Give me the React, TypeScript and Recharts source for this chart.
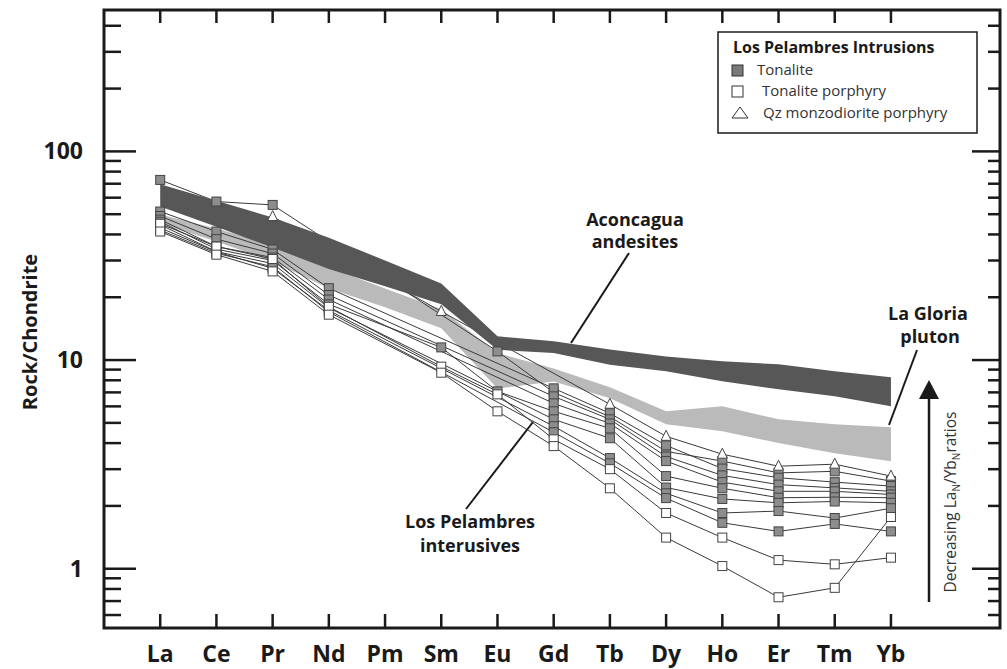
import { Area, ComposedChart, Line, XAxis, YAxis } from "recharts";

const elements = ["La", "Ce", "Pr", "Nd", "Pm", "Sm", "Eu", "Gd", "Tb", "Dy", "Ho", "Er", "Tm", "Yb"];
const yTicks = [0.6, 0.7, 0.8, 0.9, 1, 2, 3, 4, 5, 6, 7, 8, 9, 10, 20, 30, 40, 50, 60, 70, 80, 90, 100, 200, 300, 400];
const yLabelled = [1, 10, 100];

// fields
const aconcaguaLow = [54.4, 43.6, 34.6, 27.3, 22.6, 18.5, 11.2, 10.8, 9.5, 8.83, 7.91, 7.24, 6.7, 6.0];
const aconcaguaHigh = [69.5, 58, 48.2, 38.6, 30, 23.3, 13, 12.3, 11.25, 10.4, 9.86, 9.54, 8.83, 8.27];
const gloriaLow = [45.1, 37, 29.7, 22, 17.9, 14.2, 7.3, 7.9, 6.56, 4.92, 4.56, 4.0, 3.58, 3.27];
const gloriaHigh = [49.8, 42.7, 35.8, 27.8, 22, 17.5, 10.8, 9.1, 7.4, 5.68, 6.0, 5.2, 4.92, 4.76];

// Los Pelambres samples (Pm not analysed; null = hidden / not shown)
const qzMonzo1 = [null, null, 48.7, null, null, 17.1, null, null, 6.14, 4.31, 3.54, 3.1, 3.17, 2.78];
const tonalite1 = [73, 57.5, 55.4, null, null, null, 11, 7.0, 5.35, 3.65, 3.28, 2.88, 2.93, 2.63];
const tonalite2 = [51.5, 41.3, 33.9, 22.1, null, null, null, 7.32, 5.56, 3.9, 3.02, 2.73, 2.6, 2.49];
const tonalite3 = [49, 38, 32.4, 20.5, null, null, null, 6.7, 5.2, 3.45, 2.8, 2.53, 2.44, 2.35];
const tonalite4 = [47.1, 35, 31, 19.5, null, null, null, 6.2, 4.97, 3.28, 2.6, 2.35, 2.35, 2.27];
const tonalite5 = [46, 34, 30, 18.5, null, 11.5, 7.08, 5.68, 4.71, 2.78, 2.43, 2.19, 2.2, 2.19];
const tonalite6 = [44.5, 33.1, 29, 17.8, null, null, null, 5.2, 4.22, 2.45, 2.16, 2.07, 2.1, 2.07];
const tonalite7 = [43, 33, 27.5, 17.3, null, null, null, 4.82, 3.39, 2.3, 1.85, 1.89, 1.75, 1.95];
const tonalite8 = [42, 32.5, 28, 17, null, null, null, 4.51, 3.2, 2.18, 1.66, 1.51, 1.64, 1.51];
const porphyry1 = [45, 35, 30.5, 18, null, 9.3, 6.85, 4.17, 3.0, 1.85, 1.41, 1.1, 1.05, 1.13];
const porphyry2 = [41.3, 32, 26.6, 16.5, null, 8.7, 5.68, 3.87, 2.43, 1.41, 1.03, 0.73, 0.81, 1.77];

const samples = [
  { key: "tonalite1", values: tonalite1, marker: "filled" },
  { key: "tonalite2", values: tonalite2, marker: "filled" },
  { key: "tonalite3", values: tonalite3, marker: "filled" },
  { key: "tonalite4", values: tonalite4, marker: "filled" },
  { key: "tonalite5", values: tonalite5, marker: "filled" },
  { key: "tonalite6", values: tonalite6, marker: "filled" },
  { key: "tonalite7", values: tonalite7, marker: "filled" },
  { key: "tonalite8", values: tonalite8, marker: "filled" },
  { key: "porphyry1", values: porphyry1, marker: "open" },
  { key: "porphyry2", values: porphyry2, marker: "open" },
  { key: "qzMonzo1", values: qzMonzo1, marker: "triangle" },
];

const data = elements.map((el, i) => {
  const row: Record<string, any> = {
    x: i,
    name: el,
    aconcagua: [aconcaguaLow[i], aconcaguaHigh[i]],
    gloria: [gloriaLow[i], gloriaHigh[i]],
  };
  samples.forEach((s) => {
    row[s.key] = s.values[i];
  });
  return row;
});

const W = 1007;
const H = 669;
const LEFT = 104;
const RIGHT = 1000;
const TOP = 10;
const BOTTOM = 628;
const FONT = "'Open Sans', 'Noto Sans', sans-serif";
const INK = "#1a1a1a";
const MARGIN = { top: TOP, right: W - RIGHT, bottom: H - BOTTOM - 1, left: LEFT - 1 };
const layer = { position: "absolute" as const, left: 0, top: 0 };

function Marker(props: any) {
  const { cx, cy, kind, index, dataKey } = props;
  const k = `${dataKey}-${index}`;
  if (cx == null || cy == null || Number.isNaN(cy)) return <g key={k} />;
  if (kind === "triangle") {
    return (
      <polygon
        key={k}
        points={`${cx},${cy - 6} ${cx - 5},${cy + 4} ${cx + 5},${cy + 4}`}
        fill="#fff"
        stroke="#444"
        strokeWidth={1}
      />
    );
  }
  return (
    <rect
      key={k}
      x={cx - 4.5}
      y={cy - 4.5}
      width={9}
      height={9}
      fill={kind === "filled" ? "#8d8d8d" : "#fff"}
      stroke="#444"
      strokeWidth={1}
    />
  );
}

function XTick(props: any) {
  const { x, payload } = props;
  return (
    <g>
      <line x1={x} x2={x} y1={BOTTOM} y2={BOTTOM - 14} stroke={INK} strokeWidth={2.5} />
      <line x1={x} x2={x} y1={TOP} y2={TOP + 13} stroke={INK} strokeWidth={2.5} />
      <text x={x} y={662} textAnchor="middle" fontFamily={FONT} fontWeight={700} fontSize={23} fill={INK}>
        {elements[payload.value]}
      </text>
    </g>
  );
}

function YTick(props: any) {
  const { y, payload } = props;
  const major = yLabelled.includes(payload.value);
  return (
    <g>
      <line x1={LEFT} x2={LEFT + (major ? 32 : 17)} y1={y} y2={y} stroke={INK} strokeWidth={2.5} />
      <line x1={RIGHT} x2={RIGHT - (major ? 28 : 12)} y1={y} y2={y} stroke={INK} strokeWidth={2.5} />
      {major ? (
        <text x={83} y={y + 8} textAnchor="end" fontFamily={FONT} fontWeight={700} fontSize={23} fill={INK}>
          {payload.value}
        </text>
      ) : null}
    </g>
  );
}

function Axes({ withTicks }: { withTicks: boolean }) {
  return [
    <XAxis
      key="x"
      dataKey="x"
      type="number"
      domain={[-1, 14.94]}
      ticks={elements.map((_, i) => i)}
      interval={0}
      height={1}
      tickSize={0}
      tickLine={false}
      axisLine={false}
      tick={withTicks ? <XTick /> : false}
      allowDataOverflow
    />,
    <YAxis
      key="y"
      type="number"
      scale="log"
      domain={[0.52, 476]}
      ticks={yTicks}
      interval={0}
      width={1}
      tickSize={0}
      tickLine={false}
      axisLine={false}
      tick={withTicks ? <YTick /> : false}
      allowDataOverflow
    />,
  ];
}

export default function App() {
  return (
    <div style={{ ...layer, width: W, height: H, background: "#fff" }}>
      <div style={layer}>
        <ComposedChart width={W} height={H} data={data} margin={MARGIN}>
          {Axes({ withTicks: true })}
          <Area
            dataKey="gloria"
            type="linear"
            fill="#bababa"
            fillOpacity={1}
            stroke="none"
            isAnimationActive={false}
            dot={false}
            activeDot={false}
          />
          {samples.map((s) => (
            <Line
              key={s.key}
              dataKey={s.key}
              type="linear"
              stroke="#3a3a3a"
              strokeWidth={1}
              connectNulls
              isAnimationActive={false}
              dot={false}
              activeDot={false}
            />
          ))}
        </ComposedChart>
      </div>
      {/* Aconcagua field sits above the sample lines, markers above everything */}
      <div style={{ ...layer, pointerEvents: "none" }}>
        <ComposedChart width={W} height={H} data={data} margin={MARGIN}>
          {Axes({ withTicks: false })}
          <Area
            dataKey="aconcagua"
            type="linear"
            fill="#575757"
            fillOpacity={1}
            stroke="none"
            isAnimationActive={false}
            dot={false}
            activeDot={false}
          />
          {samples.map((s) => (
            <Line
              key={s.key}
              dataKey={s.key}
              type="linear"
              stroke="none"
              connectNulls
              isAnimationActive={false}
              dot={(p: any) => <Marker {...p} key={`${s.key}-${p.index}`} kind={s.marker} />}
              activeDot={false}
            />
          ))}
        </ComposedChart>
      </div>
      <svg width={W} height={H} style={{ ...layer, pointerEvents: "none" }} fontFamily={FONT}>
        <rect x={LEFT} y={TOP} width={RIGHT - LEFT} height={BOTTOM - TOP} fill="none" stroke={INK} strokeWidth={3} />
        <text
          x={37}
          y={332}
          transform="rotate(-90 37 332)"
          textAnchor="middle"
          fontWeight={700}
          fontSize={20}
          fill={INK}
        >
          Rock/Chondrite
        </text>

        {/* legend */}
        <rect x={718} y={32} width={259} height={101} fill="#fff" stroke={INK} strokeWidth={1.5} />
        <text x={733} y={53} fontWeight={700} fontSize={16} fill={INK}>
          Los Pelambres Intrusions
        </text>
        <rect x={732} y={65} width={11} height={11} fill="#7a7a7a" stroke="#333" strokeWidth={1} />
        <text x={757} y={75} fontSize={15} fill="#333">Tonalite</text>
        <rect x={732} y={86} width={11} height={11} fill="#fff" stroke="#333" strokeWidth={1} />
        <text x={762} y={96} fontSize={15} fill="#333">Tonalite porphyry</text>
        <polygon points="740,107 732,118 748,118" fill="#fff" stroke="#333" strokeWidth={1} />
        <text x={763} y={118} fontSize={15} fill="#333">Qz monzodiorite porphyry</text>

        {/* annotations */}
        <text x={635} y={226} textAnchor="middle" fontWeight={700} fontSize={18} fill={INK}>Aconcagua</text>
        <text x={635} y={248} textAnchor="middle" fontWeight={700} fontSize={18} fill={INK}>andesites</text>
        <line x1={629} y1={253} x2={571} y2={343} stroke={INK} strokeWidth={2} />

        <text x={928} y={320} textAnchor="middle" fontWeight={700} fontSize={18} fill={INK}>La Gloria</text>
        <text x={930} y={343} textAnchor="middle" fontWeight={700} fontSize={18} fill={INK}>pluton</text>
        <line x1={917} y1={350} x2={889} y2={425} stroke={INK} strokeWidth={2} />

        <text x={470} y={528} textAnchor="middle" fontWeight={700} fontSize={18} fill={INK}>Los Pelambres</text>
        <text x={470} y={552} textAnchor="middle" fontWeight={700} fontSize={18} fill={INK}>interusives</text>
        <line x1={533} y1={422} x2={466} y2={509} stroke={INK} strokeWidth={2} />

        <line x1={929} y1={602} x2={929} y2={396} stroke={INK} strokeWidth={2.5} />
        <polygon points="929,380 919,399 939,399" fill={INK} />
        <text
          x={956}
          y={502}
          transform="rotate(-90 956 502)"
          textAnchor="middle"
          fontSize={15.5}
          fill="#333"
        >
          Decreasing La<tspan fontSize={10} dy={4}>N</tspan>
          <tspan dy={-4}>/Yb</tspan>
          <tspan fontSize={10} dy={4}>N</tspan>
          <tspan dy={-4}>ratios</tspan>
        </text>
      </svg>
    </div>
  );
}
